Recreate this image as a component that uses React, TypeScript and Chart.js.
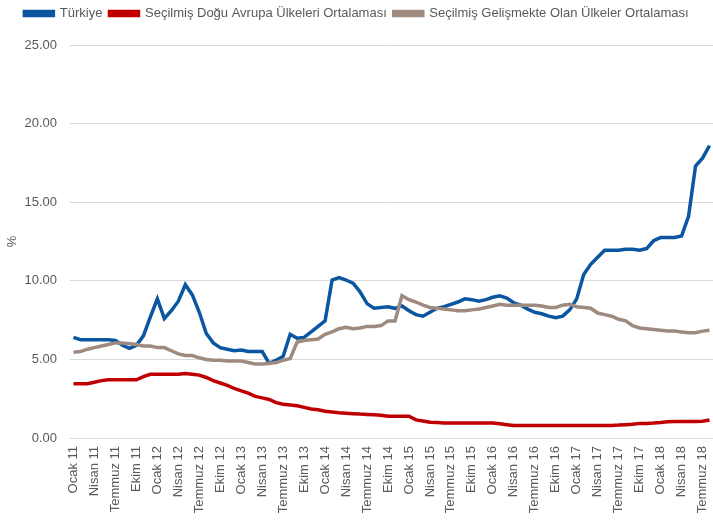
import React, { useEffect, useRef } from 'react';
import { Chart, registerables } from 'chart.js';

Chart.register(...registerables);

const MONTHS = ['Ocak', 'Şubat', 'Mart', 'Nisan', 'Mayıs', 'Haziran', 'Temmuz', 'Ağustos', 'Eylül', 'Ekim', 'Kasım', 'Aralık'];
const YEARS = ['11', '12', '13', '14', '15', '16', '17', '18'];
const MONTHS_IN_LAST_YEAR = 8; // Ocak 18 .. Ağustos 18

const CATEGORIES: string[] = [];
YEARS.forEach((y, yi) => {
  const n = yi === YEARS.length - 1 ? MONTHS_IN_LAST_YEAR : 12;
  for (let m = 0; m < n; m++) CATEGORIES.push(`${MONTHS[m]} ${y}`);
});

const SERIES_NAMES = [
  'Türkiye',
  'Seçilmiş Doğu Avrupa Ülkeleri Ortalaması',
  'Seçilmiş Gelişmekte Olan Ülkeler Ortalaması',
];

const TURKIYE = [
  6.4, 6.25, 6.25, 6.25, 6.25, 6.25, 6.2, 5.9, 5.7, 5.9, 6.5, 7.7,
  8.85, 7.6, 8.1, 8.7, 9.75, 9.1, 8.0, 6.65, 6.05, 5.75, 5.65, 5.55,
  5.6, 5.5, 5.5, 5.5, 4.75, 4.95, 5.2, 6.6, 6.35, 6.4, 6.75, 7.1,
  7.45, 10.05, 10.2, 10.05, 9.85, 9.3, 8.55, 8.25, 8.3, 8.35, 8.25, 8.4,
  8.1, 7.85, 7.75, 8.0, 8.25, 8.35, 8.5, 8.65, 8.85, 8.8, 8.7, 8.8,
  8.95, 9.05, 8.9, 8.6, 8.45, 8.2, 8.0, 7.9, 7.75, 7.65, 7.75, 8.15,
  8.85, 10.4, 11.05, 11.5, 11.95, 11.95, 11.95, 12.0, 12.0, 11.95, 12.05, 12.55,
  12.75, 12.75, 12.75, 12.85, 14.1, 17.3, 17.8, 18.6,
];

const DOGU_AVRUPA = [
  3.45, 3.45, 3.45, 3.55, 3.65, 3.7, 3.7, 3.7, 3.7, 3.7, 3.9, 4.05,
  4.05, 4.05, 4.05, 4.05, 4.1, 4.05, 4.0, 3.85, 3.65, 3.5, 3.35, 3.15,
  3.0, 2.85, 2.65, 2.55, 2.45, 2.25, 2.15, 2.1, 2.05, 1.95, 1.85, 1.8,
  1.7, 1.65, 1.6, 1.58, 1.55, 1.52, 1.5, 1.48, 1.45, 1.38, 1.38, 1.38,
  1.38, 1.15, 1.08, 1.0, 0.98, 0.95, 0.95, 0.95, 0.95, 0.95, 0.95, 0.95,
  0.95, 0.9, 0.85, 0.8, 0.8, 0.8, 0.8, 0.8, 0.8, 0.8, 0.8, 0.8,
  0.8, 0.8, 0.8, 0.8, 0.8, 0.8, 0.82, 0.85, 0.88, 0.93, 0.93, 0.95,
  0.98, 1.03, 1.05, 1.05, 1.05, 1.05, 1.07, 1.15,
];

const GELISMEKTE = [
  5.45, 5.5, 5.65, 5.75, 5.85, 5.95, 6.05, 6.05, 6.0, 5.95, 5.85, 5.85,
  5.75, 5.75, 5.55, 5.35, 5.25, 5.25, 5.1, 5.0, 4.95, 4.95, 4.9, 4.9,
  4.9, 4.8, 4.7, 4.7, 4.75, 4.8, 4.95, 5.05, 6.1, 6.2, 6.25, 6.3,
  6.6, 6.75, 6.95, 7.05, 6.95, 7.0, 7.1, 7.1, 7.15, 7.45, 7.45, 9.05,
  8.8, 8.65, 8.45, 8.3, 8.25, 8.2, 8.15, 8.1, 8.1, 8.15, 8.2, 8.3,
  8.4, 8.5, 8.45, 8.45, 8.45, 8.45, 8.45, 8.4, 8.3, 8.3, 8.45, 8.5,
  8.35, 8.3, 8.25, 7.95, 7.85, 7.75, 7.55, 7.45, 7.15, 7.0, 6.95, 6.9,
  6.85, 6.8, 6.8, 6.75, 6.7, 6.7, 6.8, 6.85,
];

const COLORS = ['#0B56A0', '#C00000', '#9E8A7E'];
const Y_MIN = 0;
const Y_MAX = 25;
const Y_STEP = 5;
const LABEL_EVERY = 3;
const FONT = '"Liberation Sans", Arial, sans-serif';
const TEXT = '#595959';

const legendMargin = {
  id: 'legendMargin',
  beforeInit(chart: any) {
    const legend = chart.legend;
    if (!legend) return;
    const origFit = legend.fit;
    legend.fit = function () {
      origFit.call(this);
      this.height += 15;
    };
  },
};

export default function App() {
  const ref = useRef<HTMLCanvasElement | null>(null);

  useEffect(() => {
    if (!ref.current) return;
    const values = [TURKIYE, DOGU_AVRUPA, GELISMEKTE];
    const chart = new Chart(ref.current, {
      type: 'line',
      data: {
        labels: CATEGORIES,
        datasets: values.map((d, i) => ({
          label: SERIES_NAMES[i],
          data: d,
          borderColor: COLORS[i],
          backgroundColor: COLORS[i],
          borderWidth: 3.5,
          pointRadius: 0,
          pointHoverRadius: 0,
          tension: 0,
          fill: false,
          order: i === 2 ? 0 : i === 0 ? 1 : 2,
        })),
      },
      plugins: [legendMargin],
      options: {
        animation: false,
        responsive: true,
        maintainAspectRatio: false,
        layout: { padding: { left: 0, right: 0, top: 0, bottom: 0 } },
        plugins: {
          tooltip: { enabled: false },
          legend: {
            position: 'top',
            labels: {
              boxWidth: 29,
              boxHeight: 4,
              padding: 7,
              color: TEXT,
              font: { family: FONT, size: 13 },
              sort: (a: any, b: any) => a.datasetIndex - b.datasetIndex,
            },
          },
        },
        scales: {
          x: {
            type: 'category',
            offset: true,
            grid: { display: false, drawTicks: false },
            border: { display: false },
            ticks: {
              autoSkip: false,
              maxRotation: 90,
              minRotation: 90,
              padding: 8,
              color: TEXT,
              font: { family: FONT, size: 13 },
              callback: function (this: any, _v: any, idx: number) {
                return idx % LABEL_EVERY === 0 ? CATEGORIES[idx] : null;
              },
            },
            afterFit: (scale: any) => {
              scale.height = 82;
              scale.paddingRight = 0;
              scale.paddingLeft = 0;
            },
          },
          y: {
            min: Y_MIN,
            max: Y_MAX,
            grid: { color: '#D9D9D9', lineWidth: 1, drawTicks: false },
            border: { display: false },
            title: {
              display: true,
              text: '%',
              color: TEXT,
              font: { family: FONT, size: 13 },
              padding: { top: 5, bottom: 0 },
            },
            ticks: {
              stepSize: Y_STEP,
              padding: 13,
              color: TEXT,
              font: { family: FONT, size: 13 },
              callback: (v: any) => Number(v).toFixed(2),
            },
            afterFit: (scale: any) => {
              scale.width = 70;
            },
          },
        },
      },
    });
    return () => chart.destroy();
  }, []);

  return (
    <div style={{ position: 'fixed', left: 0, top: 0, width: 713, height: 520, background: '#fff' }}>
      <canvas ref={ref} />
    </div>
  );
}
